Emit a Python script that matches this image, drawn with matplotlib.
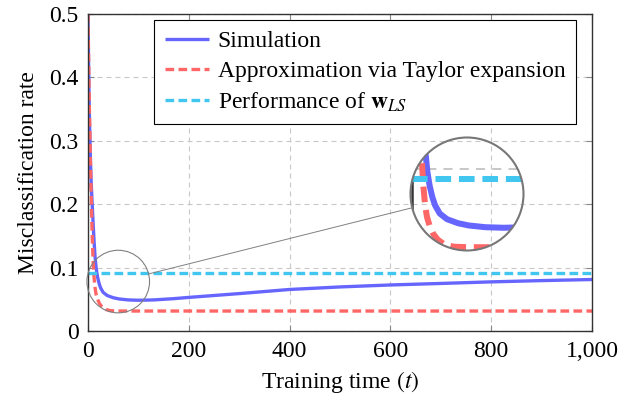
import numpy as np
import matplotlib
matplotlib.use('Agg')
import matplotlib.pyplot as plt
from matplotlib.patches import Circle
from matplotlib.lines import Line2D

plt.rcParams['font.family'] = ['Liberation Serif', 'DejaVu Serif']
plt.rcParams['mathtext.fontset'] = 'stix'

# datos
t_sim = [0, 1, 2, 3, 4, 5, 6, 8, 10, 12, 14, 16.5, 19, 22, 25, 30, 38, 50, 62,
         80, 100, 130, 170, 200, 250, 300, 400, 500, 600, 700, 800, 900, 1000]
err_sim = [0.5, 0.43, 0.375, 0.33, 0.295, 0.265, 0.24, 0.205, 0.172, 0.142,
           0.117, 0.097, 0.085, 0.075, 0.068, 0.061, 0.056, 0.0525, 0.0505,
           0.049, 0.0485, 0.049, 0.051, 0.053, 0.056, 0.059, 0.0655, 0.0695,
           0.0726, 0.075, 0.0775, 0.0795, 0.0812]

t_taylor = [0, 1.5, 3, 4.5, 6, 7.5, 9, 10.5, 12, 14, 16, 19, 23, 28, 35, 45,
            60, 100, 200, 400, 600, 800, 1000]
err_taylor = [0.5, 0.41, 0.34, 0.28, 0.225, 0.175, 0.135, 0.105, 0.085, 0.068,
              0.058, 0.05, 0.043, 0.038, 0.034, 0.032, 0.0315, 0.0315, 0.0315,
              0.0315, 0.0315, 0.0315, 0.0315]

t_ls = [0, 1000]
err_ls = [0.0915, 0.0915]

nombres = ['Simulation', 'Approximation via Taylor expansion',
           r'Performance of $\mathbf{w}_{LS}$']

x_ticks = [0, 200, 400, 600, 800, 1000]
x_labels = ['0', '200', '400', '600', '800', '1,000']
y_ticks = [0, 0.1, 0.2, 0.3, 0.4, 0.5]
y_labels = ['0', '0.1', '0.2', '0.3', '0.4', '0.5']

azul = '#6666ff'
rojo = '#ff6666'
celeste = '#41c6f0'
lw = 2.4
fs = 17


def curvas(eje, k=1.0, clip=None):
    l1, = eje.plot(t_sim, err_sim, color=azul, lw=lw * k, solid_capstyle='butt')
    l2, = eje.plot(t_taylor, err_taylor, color=rojo, lw=lw * k,
                   dashes=(2.6, 1.3))
    l3, = eje.plot(t_ls, err_ls, color=celeste, lw=lw * k, dashes=(2.6, 1.3))
    if clip is not None:
        for l in (l1, l2, l3):
            l.set_clip_path(clip)
    return l1, l2, l3


fig = plt.figure(figsize=(6.35, 4.05), dpi=100)
W, H = 635, 405
ax = fig.add_axes([88 / W, 74 / H, 504 / W, 317 / H])

lineas = curvas(ax)
ax.set_xlim(0, 1000)
ax.set_ylim(0, 0.5)
ax.set_xticks(x_ticks)
ax.set_xticklabels(x_labels)
ax.set_yticks(y_ticks)
ax.set_yticklabels(y_labels)
ax.grid(True, color='#c8c8c8', lw=0.8, dashes=(4.5, 3.6))
ax.tick_params(direction='in', length=4.5, width=0.8, color='#888888',
               top=True, right=True, labelsize=fs)
ax.tick_params(axis='x', pad=7)
ax.tick_params(axis='y', pad=6.8)
for s in ax.spines.values():
    s.set_color('#333333')
    s.set_linewidth(1.0)
ax.set_xlabel('Training time $(t)$', fontsize=fs, labelpad=5)
ax.set_ylabel('Misclassification rate', fontsize=fs, labelpad=7)

ax.legend(lineas, nombres, loc='upper left',
          bbox_to_anchor=(154 / W, 1 - 20 / H),
          bbox_transform=fig.transFigure, borderaxespad=0, fontsize=fs,
          handlelength=1.9, handletextpad=0.34, labelspacing=0.35,
          borderpad=0.45, fancybox=False, framealpha=1, edgecolor='black')
ax.get_legend().get_frame().set_linewidth(0.8)

# lupa (spy)
r_peq = 31.3
R = 56.5
cx, cy = ax.transData.transform((60, 0.078))
gx, gy = 467, H - 194
m = R / r_peq

(x0, y0) = ax.transData.inverted().transform((cx - r_peq, cy - r_peq))
(x1, y1) = ax.transData.inverted().transform((cx + r_peq, cy + r_peq))

axz = fig.add_axes([(gx - R) / W, (gy - R) / H, 2 * R / W, 2 * R / H])
axz.set_xlim(x0, x1)
axz.set_ylim(y0, y1)
axz.axis('off')
axz.patch.set_alpha(0)
recorte = Circle((0.5, 0.5), 0.5, transform=axz.transAxes)
g = axz.axhline(0.1, color='#c8c8c8', lw=0.8 * m, dashes=(4.5, 3.6))
g.set_clip_path(recorte)
sp = axz.axvline(0, color='#333333', lw=1.0 * m)
sp.set_clip_path(recorte)
curvas(axz, m, recorte)

d = 100.0
fig.add_artist(Circle((cx / d, cy / d), r_peq / d, transform=fig.dpi_scale_trans,
                      fill=False, ec='#808080', lw=0.8, zorder=5))
fig.add_artist(Circle((gx / d, gy / d), R / d, transform=fig.dpi_scale_trans,
                      fill=False, ec='#777777', lw=1.5, zorder=5))
ux, uy = gx - cx, gy - cy
n = np.hypot(ux, uy)
ux, uy = ux / n, uy / n
fig.add_artist(Line2D([(cx + r_peq * ux) / d, (gx - R * ux) / d],
                      [(cy + r_peq * uy) / d, (gy - R * uy) / d],
                      transform=fig.dpi_scale_trans, color='#808080', lw=0.7,
                      zorder=5))

fig.savefig('out.png', dpi=100)
